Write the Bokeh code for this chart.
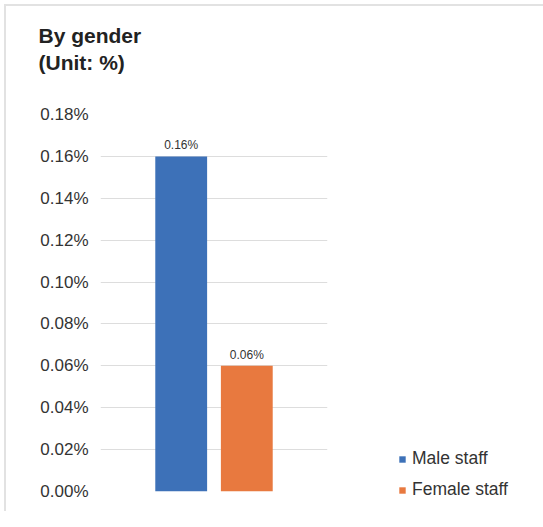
from bokeh.plotting import figure
from bokeh.models import ColumnDataSource, Legend, LegendItem, Title, PrintfTickFormatter, FixedTicker, Range1d
from bokeh.core.properties import value
from bokeh.embed import file_html
from bokeh.resources import INLINE

categories = ["Male staff", "Female staff"]
values = [0.16, 0.06]
bar_labels = ["0.16%", "0.06%"]
colors = ["#3d71b8", "#e8793f"]
y_ticks = [0.00, 0.02, 0.04, 0.06, 0.08, 0.10, 0.12, 0.14, 0.16, 0.18]
title_lines = ["By gender", "(Unit: %)"]

FONT = "Liberation Sans"

p = figure(output_backend="svg", toolbar_location=None,
           frame_width=227, frame_height=377,
           min_border_left=94, min_border_top=108, min_border_right=190, min_border_bottom=20,
           x_range=Range1d(-1.23, 2.23), y_range=Range1d(0, 0.18))
p.styles = {"border-top": "2px solid #e2e2e2", "border-left": "2px solid #e2e2e2",
            "border-right": "none", "border-bottom": "none",
            "margin-top": "4px", "margin-left": "4px"}
p.outline_line_color = None
p.background_fill_color = "white"
p.border_fill_color = "white"

xs = list(range(len(categories)))

renderers = []
for i in range(len(categories)):
    s = ColumnDataSource(dict(x=[xs[i]], top=[values[i]], lab=[bar_labels[i]]))
    r = p.vbar(x="x", top="top", width=0.79, source=s, fill_color=colors[i], line_color=None)
    renderers.append(r)
    p.text(x="x", y="top", text="lab", source=s, text_align="center", text_baseline="bottom",
           y_offset=-4, text_font=value(FONT), text_font_size="12px", text_color="#333333")

p.xaxis.visible = False
p.xgrid.visible = False
p.ygrid.grid_line_color = "#dddddd"
p.ygrid.grid_line_width = 1

p.yaxis.ticker = FixedTicker(ticks=y_ticks)
p.yaxis.formatter = PrintfTickFormatter(format="%.2f%%")
p.yaxis.axis_line_color = None
p.yaxis.major_tick_line_color = None
p.yaxis.minor_tick_line_color = None
p.yaxis.major_tick_out = 0
p.yaxis.major_label_standoff = 12
p.yaxis.major_label_text_font = FONT
p.yaxis.major_label_text_font_size = "17px"
p.yaxis.major_label_text_color = "#333333"

legend = Legend(items=[LegendItem(label=categories[i], renderers=[renderers[i]]) for i in range(len(categories))],
                location=(71, -9), orientation="vertical",
                glyph_width=8, glyph_height=8, label_height=20, spacing=10,
                label_standoff=6, padding=0, margin=0,
                border_line_color=None, background_fill_alpha=0,
                label_text_font=FONT, label_text_font_size="17.5px", label_text_color="#333333")
p.add_layout(legend, "right")

p.title.text = title_lines[0]
p.title.align = "left"
p.title.offset = -62
p.title.standoff = 0
p.title.text_font = FONT
p.title.text_font_size = "21px"
p.title.text_font_style = "bold"
p.title.text_color = "#222222"
unit_title = Title(text=title_lines[1], align="left", offset=-62, standoff=4, text_font=FONT,
                   text_font_size="21px", text_font_style="bold", text_color="#222222")
spacer = Title(text=" ", text_font_size="1px", standoff=36)
p.above = [spacer, unit_title]

open("out.html", "w").write(file_html(p, INLINE))
